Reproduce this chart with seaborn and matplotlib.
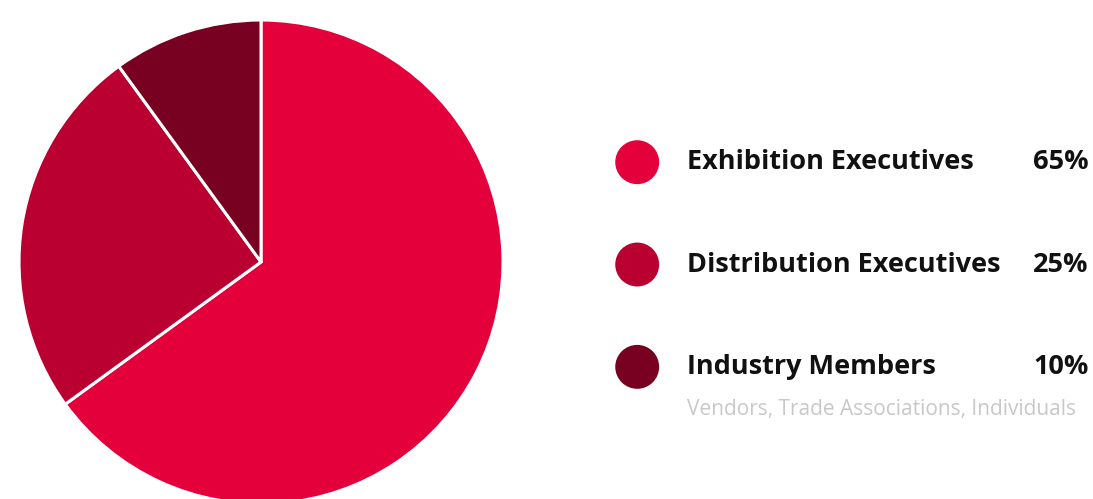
import matplotlib
matplotlib.use("Agg")
import matplotlib.pyplot as plt
import seaborn as sns
import pandas as pd

groups = ["Exhibition Executives", "Distribution Executives", "Industry Members"]
shares = [65, 25, 10]
colors = ["#E4003B", "#BA0030", "#780020"]
note = "Vendors, Trade Associations, Individuals"

sns.set_theme(style="white")
plt.rcParams["font.family"] = ["Open Sans", "DejaVu Sans"]

fig = plt.figure(figsize=(10.93, 4.99), dpi=100)

# pie on the left, slightly cut at the bottom like the original
ax = fig.add_axes([0.0174, -0.0100, 0.4428, 0.9699])
ax.pie(shares, colors=colors, startangle=90, counterclock=False,
       wedgeprops=dict(edgecolor="white", linewidth=2.2))
ax.set_xlim(-1, 1)
ax.set_ylim(-1, 1)
ax.axis("off")

# legend drawn as its own little scatter
df = pd.DataFrame({"group": groups, "share": shares, "row": range(len(groups)), "x": 0.0})
lax = fig.add_axes([0.549, 0.1623, 0.451, 0.6152])
sns.scatterplot(data=df, x="x", y="row", hue="group", palette=colors, s=1000,
                edgecolor="none", legend=False, ax=lax)
lax.set_xlim(-0.0815, 1.0)
lax.set_ylim(2.5, -0.5)
lax.axis("off")

for _, r in df.iterrows():
    lax.text(0.1095, r["row"], r["group"], fontsize=19.5, fontweight="bold",
             color="#111111", va="center", ha="left")
    lax.text(0.990, r["row"], f"{r['share']}%", fontsize=19.5, fontweight="bold",
             color="#111111", va="center", ha="right")

lax.text(0.1095, 2.42, note, fontsize=15, color="#c8c8c8", va="center", ha="left")

plt.savefig("out.png", dpi=100)
